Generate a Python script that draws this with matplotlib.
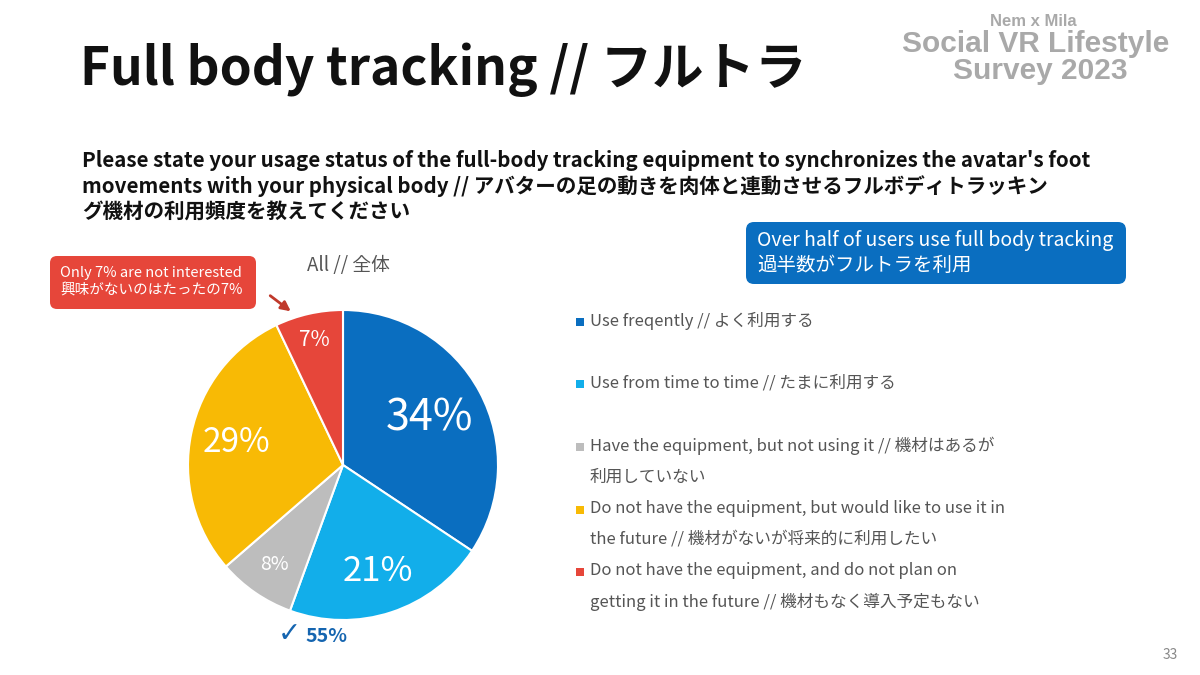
import matplotlib.pyplot as plt
from matplotlib.patches import FancyBboxPatch, Rectangle
import numpy as np

plt.rcParams['font.family'] = ['Noto Sans CJK JP', 'DejaVu Sans']

# data
categories = [
    "Use freqently // よく利用する",
    "Use from time to time // たまに利用する",
    "Have the equipment, but not using it // 機材はあるが\n利用していない",
    "Do not have the equipment, but would like to use it in\nthe future // 機材がないが将来的に利用したい",
    "Do not have the equipment, and do not plan on\ngetting it in the future // 機材もなく導入予定もない",
]
values = [34, 21, 8, 29, 7]
colors = ['#0A6EC0', '#12AEEA', '#BDBDBD', '#F8BA05', '#E6463A']

label_size = [31, 25, 14, 24, 15]
label_dist = [0.63, 0.72, 0.78, 0.70, 0.83]

fig = plt.figure(figsize=(12, 6.75), dpi=100)

# full-page axes in pixel coordinates
bg = fig.add_axes([0, 0, 1, 1])
bg.set_xlim(0, 1200)
bg.set_ylim(675, 0)
bg.axis('off')

bg.text(80, 70, "Full body tracking // フルトラ", fontsize=37, fontweight='bold',
        va='center', ha='left', color='#111111')

# logo
logo = dict(family='Liberation Sans', fontweight='bold', color='#A9A9A9', ha='center', va='center')
bg.text(1033, 21, "Nem x Mila", fontsize=12, **logo)
bg.text(1036, 44, "Social VR Lifestyle", fontsize=21.5, **logo)
bg.text(1040, 71, "Survey 2023", fontsize=21.5, **logo)

subtitle = ("Please state your usage status of the full-body tracking equipment to synchronizes the avatar's foot\n"
            "movements with your physical body // アバターの足の動きを肉体と連動させるフルボディトラッキン\n"
            "グ機材の利用頻度を教えてください")
bg.text(82, 186, subtitle, fontsize=14.8, fontweight='bold', va='center', ha='left',
        linespacing=1.22, color='#111111')

bg.text(348, 266, "All // 全体", fontsize=13.5, color='#555555', ha='center', va='center')

# red callout
bg.add_patch(FancyBboxPatch((50, 256), 206, 53, boxstyle='round,pad=0,rounding_size=7',
                            fc='#E6463A', ec='none'))
bg.text(60, 282, "Only 7% are not interested\n興味がないのはたったの7%", fontsize=10.5,
        color='white', va='center', ha='left', linespacing=1.3)
bg.annotate('', xy=(293, 313), xytext=(268, 294),
            arrowprops=dict(arrowstyle='-|>', color='#C0392B', lw=2, mutation_scale=14))

# blue callout
bg.add_patch(FancyBboxPatch((746, 222), 380, 62, boxstyle='round,pad=0,rounding_size=8',
                            fc='#0A6EC0', ec='none'))
bg.text(757, 253, "Over half of users use full body tracking\n過半数がフルトラを利用", fontsize=14,
        color='white', va='center', ha='left', linespacing=1.2)

# legend
leg_y = [321, 383, 446, 509, 571]
for y, c, lab in zip(leg_y, colors, categories):
    bg.add_patch(Rectangle((576, y - 3), 8, 8, fc=c, ec='none'))
    bg.text(590, y - 9, lab, fontsize=12, color='#555555', va='top', ha='left', linespacing=2.0)

bg.text(278, 634, "✓", family='DejaVu Sans', fontsize=20, fontweight='bold',
        color='#1565B0', va='center', ha='left')
bg.text(305, 636, "55%", fontsize=14, fontweight='bold', color='#1565B0', va='center', ha='left')

bg.text(1170, 655, "33", fontsize=10, color='#888888', ha='center', va='center')

# pie
cx, cy, r = 343, 465, 155
pax = fig.add_axes([(cx - r) / 1200, 1 - (cy + r) / 675, 2 * r / 1200, 2 * r / 675])
wedges, _ = pax.pie(values, colors=colors, startangle=90, counterclock=False,
                    wedgeprops=dict(edgecolor='white', linewidth=1.5))
pax.set_xlim(-1, 1)
pax.set_ylim(-1, 1)
for w, v, s, d in zip(wedges, values, label_size, label_dist):
    ang = np.deg2rad((w.theta1 + w.theta2) / 2)
    pax.text(d * np.cos(ang), d * np.sin(ang), f"{v}%", fontsize=s, color='white',
             ha='center', va='center')

fig.savefig('out.png', dpi=100)
